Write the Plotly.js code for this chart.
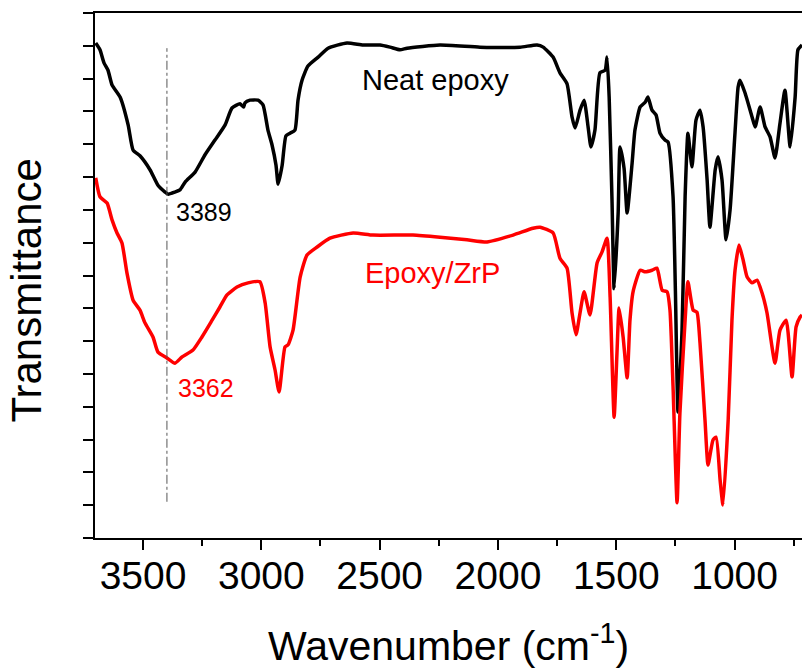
<!DOCTYPE html>
<html>
<head>
<meta charset="utf-8">
<script src="https://cdn.plot.ly/plotly-3.0.1.min.js"></script>
<style>html,body{margin:0;padding:0;background:#fff;}#chart{width:802px;height:668px;}</style>
</head>
<body>
<div id="chart"></div>
<script>
// Neat epoxy spectrum (wavenumber, transmittance a.u.)
var neatWavenumber = [3700,3682,3665,3648,3631,3597,3563,3542,3513,3470,
  3437,3407,3394,3365,3344,3322,3280,3238,3196,3153,
  3124,3090,3075,3069,3048,3014,2993,2972,2955,2938,
  2929,2912,2896,2879,2858,2845,2828,2803,2760,2718,
  2638,2570,2498,2456,2414,2384,2245,2076,1907,1835,
  1809,1767,1738,1708,1687,1674,1653,1636,1619,1607,
  1590,1569,1547,1539,1530,1518,1509,1492,1484,1467,
  1454,1433,1421,1399,1378,1366,1349,1332,1315,1294,
  1281,1260,1250,1239,1222,1209,1197,1180,1163,1146,
  1133,1116,1104,1082,1070,1053,1036,1019,998,985,
  977,956,926,913,892,871,850,829,808,787,
  765,744,732,715];
var neatTransmittance = [94.3,93.0,90.5,89.1,86.3,84.0,78.7,73.9,72.8,70.1,
  67.2,65.9,65.5,65.9,66.3,67.8,69.7,73.0,75.8,78.7,
  81.9,82.7,82.1,82.9,83.4,83.4,82.5,77.7,74.9,71.0,
  67.4,71.0,76.6,77.1,77.7,83.4,87.2,89.9,91.6,93.3,
  94.3,93.9,93.9,93.5,93.0,93.3,93.9,93.5,93.5,93.9,
  93.5,91.6,88.6,86.5,80.2,78.1,81.5,83.4,78.3,74.5,
  77.7,88.6,89.1,91.6,84.0,64.4,47.5,61.9,74.5,70.4,
  61.9,71.4,77.7,82.1,83.0,84.0,81.5,80.6,77.1,75.8,
  75.4,65.0,47.0,24.0,39.6,65.0,77.1,70.7,79.6,81.5,
  78.3,68.2,59.2,70.1,72.6,68.2,56.8,62.5,77.3,85.9,
  87.2,84.8,80.2,78.3,82.1,78.3,76.4,72.4,79.0,85.3,
  74.5,84.0,93.0,93.9];

// Epoxy/ZrP spectrum
var zrpWavenumber = [3700,3682,3652,3631,3610,3589,3568,3542,3513,3492,
  3458,3437,3399,3365,3335,3289,3251,3208,3175,3145,
  3103,3056,3006,2984,2963,2942,2925,2900,2887,2866,
  2836,2807,2765,2710,2612,2528,2359,2245,2131,2046,
  1936,1852,1822,1767,1738,1708,1687,1670,1653,1636,
  1611,1581,1560,1539,1526,1509,1497,1488,1471,1454,
  1442,1429,1399,1378,1349,1328,1306,1285,1273,1260,
  1243,1231,1209,1197,1175,1159,1146,1125,1112,1091,
  1078,1061,1049,1027,1011,998,981,964,947,926,
  905,884,863,829,808,782,757,740,723,715];
var zrpTransmittance = [68.6,65.0,63.8,60.6,58.1,56.2,50.5,45.3,43.4,41.0,
  38.3,35.4,34.3,33.3,34.5,35.8,38.3,41.5,44.0,46.3,
  47.8,48.6,48.8,44.8,36.4,32.0,27.8,36.4,36.8,39.6,
  49.7,53.9,55.4,57.1,58.1,57.7,57.7,57.3,56.8,56.4,
  57.7,59.0,59.2,58.1,53.3,51.4,42.9,38.7,42.9,46.9,
  42.5,52.4,54.5,57.1,45.9,23.0,35.2,43.8,38.3,30.5,
  41.5,46.9,51.0,50.7,51.0,51.4,47.2,46.9,43.4,28.8,
  6.7,23.8,41.5,48.8,43.4,43.0,37.1,22.5,13.9,18.7,
  19.2,11.0,6.3,22.5,41.5,51.0,55.8,53.0,49.7,48.6,
  49.1,46.7,42.9,33.3,39.6,41.5,30.7,40.2,42.1,42.5];

var seriesNames = ["Neat epoxy", "Epoxy/ZrP"];
var peakLabels = ["3389", "3362"];
var xTitle = "Wavenumber (cm<sup>-1</sup>)";
var yTitle = "Transmittance";

var FONT = "Liberation Sans, Arial, sans-serif";

var traces = [
  {x: neatWavenumber, y: neatTransmittance, type: "scatter", mode: "lines", name: seriesNames[0],
   line: {color: "#000000", width: 3.5, shape: "spline", smoothing: 0.5}},
  {x: zrpWavenumber, y: zrpTransmittance, type: "scatter", mode: "lines", name: seriesNames[1],
   line: {color: "#ff0000", width: 3.5, shape: "spline", smoothing: 0.5}}
];

var layout = {
  width: 802, height: 668,
  margin: {l: 95, r: 0, t: 13, b: 130, pad: 0},
  paper_bgcolor: "#ffffff", plot_bgcolor: "#ffffff",
  showlegend: false,
  font: {family: FONT, color: "#000000"},
  xaxis: {
    range: [3703, 715], showgrid: false, zeroline: false,
    showline: true, linecolor: "#000000", linewidth: 2, mirror: true,
    ticks: "outside", ticklen: 10, tickwidth: 2, tickcolor: "#000000",
    tick0: 0, dtick: 500, ticklabelstandoff: -8,
    minor: {ticks: "outside", ticklen: 6, tickwidth: 2, tickcolor: "#000000", dtick: 250, showgrid: false},
    tickfont: {family: FONT, size: 39, color: "#000000"}
  },
  yaxis: {
    range: [0, 100], showgrid: false, zeroline: false,
    showline: true, linecolor: "#000000", linewidth: 2, mirror: false,
    ticks: "outside", ticklen: 10, tickwidth: 2, tickcolor: "#000000",
    tick0: 0, dtick: 6.25, showticklabels: false
  },
  shapes: [
    {type: "line", xref: "x", yref: "y", x0: 3399, x1: 3399, y0: 6.9, y1: 93.3,
     line: {color: "#555555", width: 1, dash: "dashdot"}}
  ],
  annotations: [
    {xref: "x", yref: "y", x: 2266, y: 87.2, text: seriesNames[0], showarrow: false,
     font: {family: FONT, size: 29, color: "#000000"}},
    {xref: "x", yref: "y", x: 2276, y: 50.5, text: seriesNames[1], showarrow: false,
     font: {family: FONT, size: 29, color: "#ff0000"}},
    {xref: "x", yref: "y", x: 3369, y: 62.1, xanchor: "left", text: peakLabels[0], showarrow: false,
     font: {family: FONT, size: 25, color: "#000000"}},
    {xref: "x", yref: "y", x: 3361, y: 28.6, xanchor: "left", text: peakLabels[1], showarrow: false,
     font: {family: FONT, size: 25, color: "#ff0000"}},
    {xref: "paper", yref: "paper", x: -0.097, y: 0.472, xanchor: "center", yanchor: "middle",
     textangle: -90, text: yTitle, showarrow: false, font: {family: FONT, size: 42, color: "#000000"}},
    {xref: "paper", yref: "paper", x: 0.5, y: -0.2, xanchor: "center", yanchor: "middle",
     text: xTitle, showarrow: false, font: {family: FONT, size: 41, color: "#000000"}}
  ]
};

Plotly.newPlot("chart", traces, layout, {displayModeBar: false, staticPlot: true});
</script>
</body>
</html>
